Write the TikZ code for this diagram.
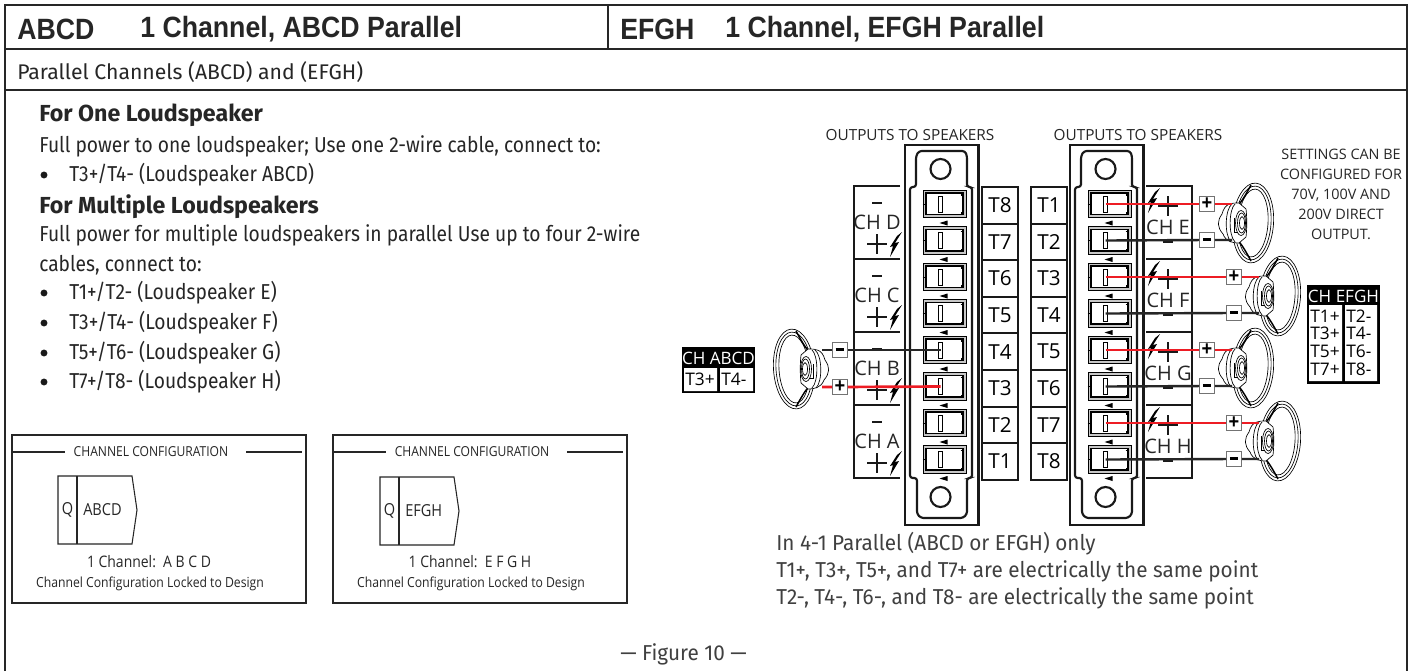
\documentclass[tikz,border=0pt]{standalone}
\usepackage{fontspec}
\setmainfont{Open Sans}
\newfontfamily\headf[FakeStretch=0.91]{Liberation Sans}
\newfontfamily\bodyf[FakeStretch=0.89]{Fira Sans}
\newfontfamily\notef[FakeStretch=0.96]{Fira Sans}
\newfontfamily\subf{Fira Sans}
\newfontfamily\labf[FakeStretch=0.88]{Open Sans}
\definecolor{wirered}{RGB}{237,28,36}
\newcommand{\FS}[1]{\fontsize{#1}{#1}\selectfont}
\tikzset{
  frameline/.style={line width=1.6pt,draw=black!85},
  txt/.style={inner sep=0pt,anchor=west,text=black!85},
  head/.style={txt,font=\headf\bfseries\FS{22}},
  body/.style={txt,font=\bodyf\FS{16.2}},
  notet/.style={txt,font=\notef\FS{16.2},text=black!75},
  bhead/.style={txt,font=\subf\bfseries\FS{17.4}},
  lab/.style={inner sep=0pt,font=\labf\FS{10.3},text=black!85},
  olab/.style={inner sep=0pt,font=\FS{11.5},text=black!85},
  tbox/.style={draw=black!90,line width=1.5pt,minimum width=27pt,minimum height=27.4pt,inner sep=0pt,font=\FS{15.5}},
  slot/.style={draw=black,fill=white,line width=.6pt,minimum width=3.2pt,minimum height=12pt,inner sep=0pt},
  pole/.style={draw=black!55,fill=white,line width=.9pt,minimum size=11pt,inner sep=0pt,font=\headf\bfseries\FS{15}},
  chl/.style={inner sep=0pt,font=\FS{15},text=black!85},
  redw/.style={draw=wirered,line width=2pt},
  blkw/.style={draw=black!85,line width=1.8pt},
  spk/.style={draw=black,line width=.5pt},
  tabhead/.style={inner sep=0pt,font=\FS{12.8},text=white},
  tabcell/.style={inner sep=0pt,font=\FS{13},text=black,anchor=west},
  bull/.style={circle,fill=black!90,inner sep=0pt,minimum size=5.2pt},
}
\newcommand{\bolt}[1]{\fill[black,shift={(#1)}] (6,-13) -- (-1,-2) -- (3,-3) -- (-6,12) -- (-3,1) -- (-6,2) -- (1,-9) -- cycle;}
\newcommand{\terminal}[3]{% x of slot, y, name
  \draw[black,line width=.7pt,fill=black!22] (#1-17.5,#2-14) rectangle (#1+25.5,#2+13.5);
  \draw[black,line width=.9pt,fill=white] (#1-14.5,#2-11) rectangle (#1+22.5,#2+10.5);
  \draw[black,line width=.7pt] (#1-18,#2) -- (#1-14.5,#2);
  \draw[black,line width=1pt] (#1+20,#2-9) -- (#1+23,#2-9) -- (#1+23,#2+9) -- (#1+20,#2+9);
  \fill[black] (#1-1,#2+19) -- (#1+7,#2+16.5) -- (#1+7,#2+21.5) -- cycle;
  \node[slot] (#3) at (#1,#2) {};
}
\newcommand{\connector}[1]{% x of left outer
  \begin{scope}[shift={(#1,0)}]
  \draw[black!90,line width=1.6pt] (0,145) rectangle (73.5,525);
  \draw[black!90,line width=1.6pt,rounded corners=2pt] (5,478) -- (5,187) -- (11,187) -- (11,156) -- (14,151) -- (60,151) -- (62,156) -- (62,187) -- (67,187) -- (67,478) -- (62,478) -- (62,514) -- (58,518) -- (16,518) -- (12,514) -- (12,478) -- cycle;
  \end{scope}
}
\newcommand{\speaker}[2]{% centre, xscale
  \begin{scope}[shift={(#1)},xscale=#2]
  \begin{scope}[rotate=-4]
  \draw[spk] (0,0) ellipse (20.5 and 40);
  \draw[spk] (0,0) ellipse (18 and 37);
  \draw[spk] (0,0) ellipse (15 and 34);
  \end{scope}
  % cone edge
  \draw[black,line width=1.1pt] (-2,-38) .. controls (-8,-27) and (-12,-20) .. (-16,-17);
  \draw[black,line width=1.1pt] (-2,38) .. controls (-8,27) and (-12,20) .. (-16,17);
  % magnet
  \draw[spk,fill=white] (-14,-20) .. controls (-22,-20) and (-28,-20) .. (-31,-9) .. controls (-36,-2) and (-36,4) .. (-30,11) .. controls (-27,19) and (-20,20) .. (-14,20) -- (-7,14) .. controls (-6,5) and (-6,-5) .. (-7,-14) -- cycle;
  \draw[spk] (-21,-19) .. controls (-28,-14) and (-29,12) .. (-22,19);
  \draw[spk] (-18,-19) .. controls (-24,-14) and (-25,12) .. (-18,19);
  \draw[spk] (-12,0) ellipse (5.5 and 12.5);
  \draw[spk] (-11.5,0) ellipse (4 and 10);
  \draw[spk] (-11,0) ellipse (2.5 and 6.5);
  \draw[spk] (-19,-5) -- (-19,9) -- (-15,9);
  \end{scope}
}
\begin{document}
\begin{tikzpicture}[x=0.75pt,y=-0.75pt]
\useasboundingbox (0,0) rectangle (1408,671);
\fill[white] (0,0) rectangle (1408,671);
% frame
\draw[frameline] (5,671) -- (5,5) -- (1407,5) -- (1407,671);
\draw[frameline] (5,49) -- (1407,49);
\draw[frameline] (5,90) -- (1407,90);
\draw[frameline] (608,5) -- (608,49);
% heading
\node[head] (h1) at (17,29) {ABCD};
\node[head] (h2) at (140,29) {1 Channel, ABCD Parallel};
\node[head] (h3) at (620,29) {EFGH};
\node[head] (h4) at (725,29) {1 Channel, EFGH Parallel};
\node[txt,font=\subf\FS{15.9}] (s1) at (17,72) {Parallel Channels (ABCD) and (EFGH)};
% left text
\node[bhead] (a1) at (39,115) {For One Loudspeaker};
\node[body] (a2) at (39,146) {Full power to one loudspeaker; Use one 2-wire cable, connect to:};
\node[bull] (a3) at (44,175) {};
\node[body] (a4) at (69,175) {T3+/T4- (Loudspeaker ABCD)};
\node[bhead] (a5) at (39,207) {For Multiple Loudspeakers};
\node[body] (a6) at (39,235) {Full power for multiple loudspeakers in parallel Use up to four 2-wire};
\node[body] (a7) at (39,265) {cables, connect to:};
\foreach \yy/\tt/\ss in {293/T1+\slash T2-/E,323/T3+\slash T4-/F,353/T5+\slash T6-/G,382/T7+\slash T8-/H}{
  \node[bull] (bl\ss) at (44,\yy) {};
  \node[body] (tl\ss) at (69,\yy) {\tt\ (Loudspeaker \ss)};
}
% channel config boxes
\foreach \xx/\nm/\lst/\dy/\dx in {0/ABCD/A B C D/0/0,321/EFGH/E F G H/1/1}{
 \begin{scope}[shift={(\xx,0)}]
  \draw[frameline] (12,435) rectangle (306,603);
  \draw[frameline] (13,452) -- (65,452) (246,452) -- (302,452);
  \node[lab] (cc\nm) at (151,452) {CHANNEL CONFIGURATION};
  \draw[black!85,line width=.8pt] (58+\dx,\dy+476) -- (132+\dx,\dy+476) -- (137+\dx,\dy+510) -- (132+\dx,\dy+544) -- (58+\dx,\dy+544) -- cycle;
  \draw[black!85,line width=.8pt] (77+\dx,\dy+476) -- (77+\dx,\dy+544);
  \node[lab,font=\labf\FS{12.4}] (q\nm) at (67.5+\dx,\dy+510) {Q};
  \node[txt,font=\labf\FS{12.4}] (n\nm) at (83+\dx,\dy+510) {\nm};
  \node[lab,font=\labf\FS{11.9}] (l\nm) at (149,562) {1 Channel:\ \ \lst};
  \node[lab,font=\labf\FS{10.4}] (k\nm) at (150,584) {Channel Configuration Locked to Design};
 \end{scope}
}
% connectors
\connector{905}
\connector{1070}
\draw[black!90,line width=1.6pt] (940.5,169) circle (10) (940.5,497) circle (10);
\draw[black!90,line width=1.6pt] (1105.5,169) circle (10) (1105.5,497) circle (10);
\foreach \i in {1,...,8}{
  \pgfmathsetmacro{\yy}{204+36.5*(\i-1)}
  \pgfmathtruncatemacro{\ln}{9-\i}
  \terminal{940.5}{\yy}{L\ln}
  \terminal{1105.5}{\yy}{R\i}
  \pgfmathsetmacro{\by}{187+36.6*(\i-.5)}
  \node[tbox] (TL\ln) at (1000,\by) {T\ln};
  \node[tbox] (TR\i) at (1049,\by) {T\i};
}
% left channel blocks
\draw[black!90,line width=1.6pt] (900,186) -- (854,186) -- (854,478) -- (900,478);
\draw[black!90,line width=1.6pt] (854,259) -- (900,259) (854,332) -- (900,332) (854,405) -- (900,405);
\foreach \yo/\nm in {0/D,73/C,146/B,219/A}{
  \node[chl] (ch\nm) at (877,222+\yo) {CH \nm};
  \draw[black!90,line width=1.6pt] (872,203+\yo) -- (882,203+\yo);
  \draw[black!90,line width=1.6pt] (867,244+\yo) -- (887,244+\yo) (877,234+\yo) -- (877,254+\yo);
  \bolt{896,245+\yo}
}
% right channel blocks
\draw[black!90,line width=1.6pt] (1146,186) -- (1192,186) -- (1192,478) -- (1146,478);
\draw[black!90,line width=1.6pt] (1146,259) -- (1192,259) (1146,332) -- (1192,332) (1146,405) -- (1192,405);
\foreach \yo/\nm in {0/E,73/F,146/G,219/H}{
  \node[chl] (ch\nm) at (1168,227+\yo) {CH \nm};
  \draw[black!90,line width=1.6pt] (1163,242+\yo) -- (1173,242+\yo);
  \draw[black!90,line width=1.6pt] (1158,206+\yo) -- (1178,206+\yo) (1168,196+\yo) -- (1168,216+\yo);
  \bolt{1154,201+\yo}
}
% speakers
\speaker{1253,223}{1}
\speaker{1280,296}{1}
\speaker{1253,368}{1}
\speaker{1280,441}{1}
\speaker{794,369}{-1}
\coordinate (S1p) at (1232,204); \coordinate (S1m) at (1232,240);
\coordinate (S2p) at (1259,277); \coordinate (S2m) at (1259,313);
\coordinate (S3p) at (1232,350); \coordinate (S3m) at (1232,386);
\coordinate (S4p) at (1259,423); \coordinate (S4m) at (1259,459);
\coordinate (S5p) at (822,387); \coordinate (S5m) at (822,350);
% pole squares
\foreach \nm/\xx/\yy in {P1/1207/204,P2/1234/277,P3/1207/350,P4/1234/423,P5/840/387}{
  \node[pole] (\nm) at (\xx,\yy) {+};
}
\foreach \nm/\xx/\yy in {M1/1207/240,M2/1234/313,M3/1207/386,M4/1234/459,M5/840/350}{
  \node[pole] (\nm) at (\xx,\yy) {\rule[.6pt]{6.4pt}{2.4pt}};
}
% wires
\draw[redw] (R1.center) -- (P1) (P1) -- (S1p);
\draw[blkw] (R2.center) -- (M1) (M1) -- (S1m);
\draw[redw] (R3.center) -- (P2) (P2) -- (S2p);
\draw[blkw] (R4.center) -- (M2) (M2) -- (S2m);
\draw[redw] (R5.center) -- (P3) (P3) -- (S3p);
\draw[blkw] (R6.center) -- (M3) (M3) -- (S3m);
\draw[redw] (R7.center) -- (P4) (P4) -- (S4p);
\draw[blkw] (R8.center) -- (M4) (M4) -- (S4m);
\draw[redw] (L3.center) -- (P5) (P5) -- (S5p);
\draw[blkw] (L4.center) -- (M5) (M5) -- (S5m);
% labels
\node[olab] (o1) at (910,135) {OUTPUTS TO SPEAKERS};
\node[olab] (o2) at (1138,135) {OUTPUTS TO SPEAKERS};
\node[inner sep=0pt,text=black!85,align=center,font=\fontsize{10.8}{15}\selectfont] (set) at (1341,194) {SETTINGS CAN BE\\CONFIGURED FOR\\70V, 100V AND\\200V DIRECT\\OUTPUT.};
% tables
\fill[black] (682,347) rectangle (755,393);
\node[tabhead] (tA) at (718.5,358) {CH ABCD};
\fill[white] (684,368) rectangle (717,391) (720,368) rectangle (753,391);
\node[tabcell] (tA1) at (685,379) {T3+};
\node[tabcell] (tA2) at (721,379) {T4-};
\fill[black] (1307,285) rectangle (1380,384);
\node[tabhead] (tE) at (1343.5,296) {CH EFGH};
\fill[white] (1309,305) rectangle (1342,381) (1345,305) rectangle (1377,381);
\foreach \yy/\pp/\mm in {316/T1+/T2-,333/T3+/T4-,351/T5+/T6-,369/T7+/T8-}{
  \node[tabcell] (c\pp) at (1310,\yy) {\pp};
  \node[tabcell] (c\mm) at (1346,\yy) {\mm};
}
% notes
\node[notet] (n1) at (776,544) {In 4-1 Parallel (ABCD or EFGH) only};
\node[notet] (n2) at (776,571) {T1+, T3+, T5+, and T7+ are electrically the same point};
\node[notet] (n3) at (776,598) {T2-, T4-, T6-, and T8- are electrically the same point};
\node[notet,anchor=center] (fig) at (683.5,654) {— Figure 10 —};
\end{tikzpicture}
\end{document}
